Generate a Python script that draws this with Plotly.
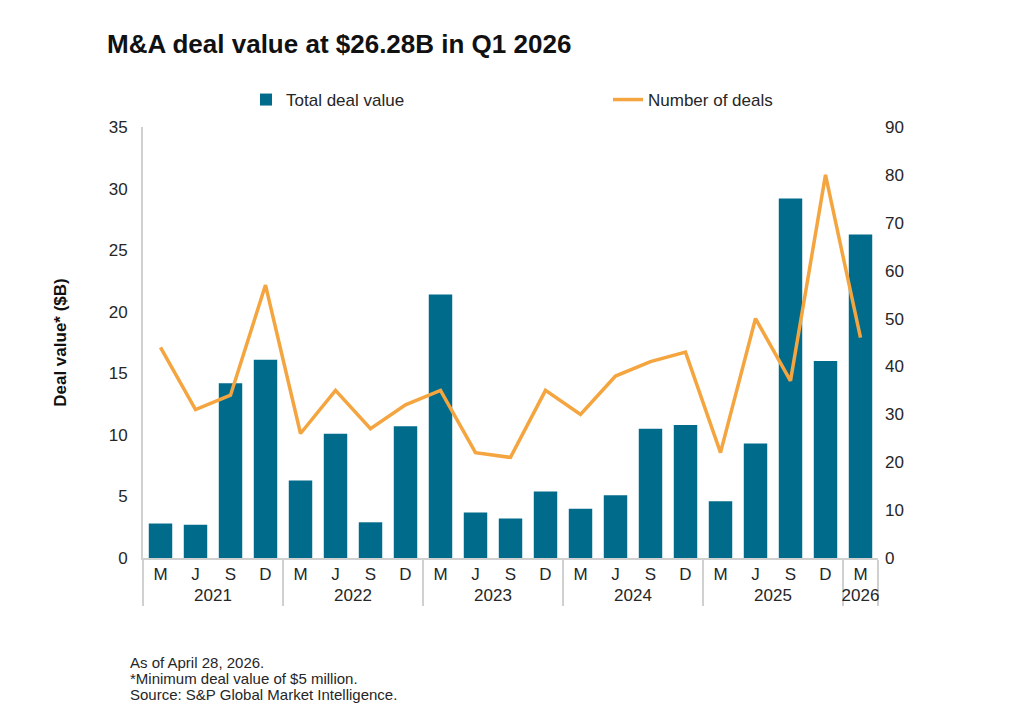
import plotly.graph_objects as go

years = ["2021"] * 4 + ["2022"] * 4 + ["2023"] * 4 + ["2024"] * 4 + ["2025"] * 4 + ["2026"]
months = ["M", "J", "S", "D"] * 5 + ["M"]
deal_value = [2.8, 2.7, 14.2, 16.1, 6.3, 10.1, 2.9, 10.7, 21.4, 3.7, 3.2, 5.4,
              4.0, 5.1, 10.5, 10.8, 4.6, 9.3, 29.2, 16.0, 26.28]
num_deals = [44, 31, 34, 57, 26, 35, 27, 32, 35, 22, 21, 35,
             30, 38, 41, 43, 22, 50, 37, 80, 46]
footnotes = ["As of April 28, 2026.", "*Minimum deal value of $5 million.",
             "Source: S&P Global Market Intelligence."]

BAR = "#006B8A"
LINE = "#F4A53F"
FONT = "Liberation Sans, Arial, sans-serif"
GREY = "#D0D0D0"
TXT = "#262626"
PW = 735
PH = 431

fig = go.Figure()
fig.add_trace(go.Bar(x=[years, months], y=deal_value, name="Total deal value",
                     marker=dict(color=BAR, line=dict(width=0)), yaxis="y", legend="legend"))
fig.add_trace(go.Scatter(x=[years, months], y=num_deals, name="Number of deals",
                         mode="lines", line=dict(color=LINE, width=3.5), yaxis="y2",
                         legend="legend2"))

leg_common = dict(orientation="h", yanchor="middle", y=1 + (127 - 100) / PH, xanchor="left",
                  font=dict(size=17, color=TXT), bgcolor="rgba(0,0,0,0)")

fig.update_layout(
    width=1024, height=724,
    paper_bgcolor="white", plot_bgcolor="white",
    margin=dict(l=143, r=146, t=127, b=166, autoexpand=False),
    font=dict(family=FONT, size=17, color=TXT),
    bargap=0.33,
    title=dict(text="<b>M&A deal value at $26.28B in Q1 2026</b>", x=107 / 1024, xanchor="left",
               y=1 - 44 / 724, yanchor="middle", font=dict(size=26, color="#111111", family=FONT)),
    showlegend=True,
    legend=dict(x=(246 - 143) / PW, **leg_common),
    legend2=dict(x=(608 - 143) / PW, **leg_common),
    xaxis=dict(type="multicategory", showgrid=False, showline=True, linecolor=GREY, linewidth=2,
               ticks="outside", ticklen=7, tickcolor="rgba(0,0,0,0)",
               showdividers=True, dividercolor=GREY, dividerwidth=2,
               tickfont=dict(size=17, color=TXT)),
    yaxis=dict(range=[0, 35], dtick=5, showgrid=False, zeroline=False, showline=True,
               linecolor=GREY, linewidth=2, ticks="", ticklabelstandoff=10,
               tickfont=dict(size=17, color=TXT),
               title=dict(text="<b>Deal value* ($B)</b>", font=dict(size=17, color="#111111"),
                          standoff=38)),
    yaxis2=dict(range=[0, 90], dtick=10, overlaying="y", side="right", showgrid=False,
                zeroline=False, showline=False, ticks="", ticklabelstandoff=6,
                tickfont=dict(size=17, color=TXT)),
)

for i, line in enumerate(footnotes):
    fig.add_annotation(text=line, xref="paper", yref="paper",
                       x=(128 - 143) / PW, y=1 - (662 + 16 * i - 127) / PH,
                       xanchor="left", yanchor="middle", align="left", showarrow=False,
                       font=dict(size=15, color=TXT, family=FONT))

fig.write_html("out.html")
